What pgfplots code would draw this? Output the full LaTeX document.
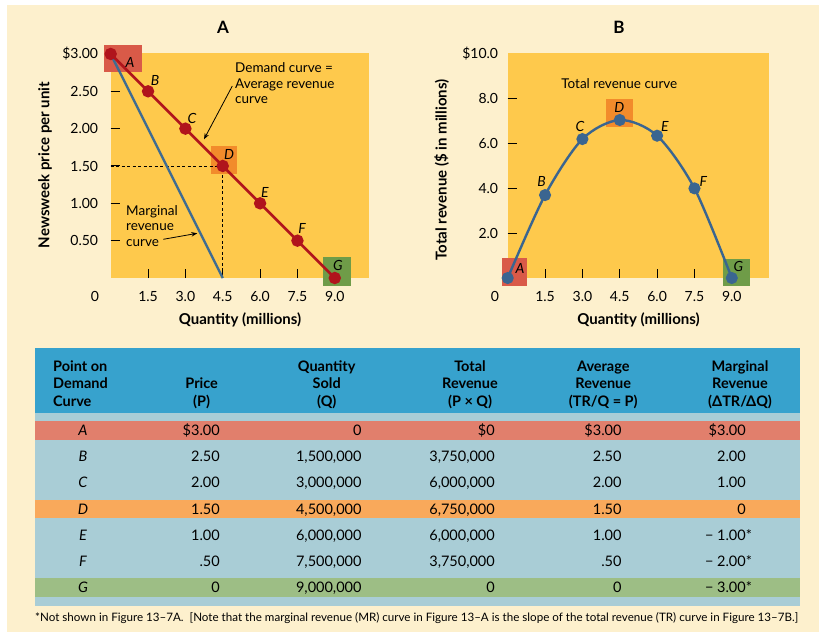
\documentclass[border=0pt]{standalone}
\usepackage{fontspec}
\setmainfont{Lato}
\usepackage{pgfplots}
\pgfplotsset{compat=1.18}
\usetikzlibrary{arrows.meta}

\definecolor{cream}{HTML}{FDF0CD}
\definecolor{plotyel}{HTML}{FEC94C}
\definecolor{boxred}{HTML}{D95A48}
\definecolor{boxorange}{HTML}{F28B2B}
\definecolor{boxgreen}{HTML}{6F9C48}
\definecolor{demred}{HTML}{B0141C}
\definecolor{mrblue}{HTML}{3F6C91}
\definecolor{trblue}{HTML}{3A6590}
\definecolor{hdrblue}{HTML}{37A2CD}
\definecolor{rowblue}{HTML}{A9CDD6}
\definecolor{rowred}{HTML}{E17F6C}
\definecolor{roworange}{HTML}{F9A95B}
\definecolor{rowgreen}{HTML}{9DBE85}

\newcommand\fs[1]{\fontsize{#1}{#1}\selectfont}

% one table row: y centre, point, P, Q, TR, AR, MR
\newcommand\trow[7]{%
  \node[anchor=base, font=\fs{14.5}\itshape] at (83,{#1+5.2}) {#2};
  \node[anchor=base east] at (220,{#1+5.2}) {#3};
  \node[anchor=base east] at (361.7,{#1+5.2}) {#4};
  \node[anchor=base east] at (495,{#1+5.2}) {#5};
  \node[anchor=base east] at (621.7,{#1+5.2}) {#6};
  \node[anchor=base east] at (746,{#1+5.2}) {#7};
}

\pgfplotsset{
  panel/.style={
    scale only axis, anchor=south west, height=225pt,
    xmin=0, ymin=0, clip=false,
    axis line style={draw=none},
    tick pos=left,
    major tick length=9.5pt,
    tick style={black, line width=1pt},
    tick label style={font=\fs{14}},
    xtick={1.5,3,4.5,6,7.5},
    xticklabels={1.5,3.0,4.5,6.0,7.5},
    extra x ticks={9}, extra x tick labels={9.0},
    extra tick style={major tick length=0pt},
    xticklabel style={anchor=base, inner sep=0pt, yshift=-23pt},
  }
}

\begin{document}
\begin{tikzpicture}
\begin{scope}[x=1pt,y=-1pt]
  \useasboundingbox (0,0) rectangle (819,632);
  \fill[white] (0,0) rectangle (819,632);
  \fill[cream] (7,5) rectangle (819,632);
  % plot areas
  \fill[plotyel] (110.7,53) rectangle (369.3,278);
  \fill[plotyel] (507.7,53) rectangle (769.3,278);
  % highlight boxes, panel A
  \fill[boxred] (104,45) rectangle (142,72);
  \fill[boxorange] (211,146) rectangle (237,174);
  \fill[boxgreen] (323,257) rectangle (351,286);
  % highlight boxes, panel B
  \fill[boxred] (502.3,258.3) rectangle (527.3,285.7);
  \fill[boxorange] (605.7,99) rectangle (632.7,127.3);
  \fill[boxgreen] (723.3,259) rectangle (750,285.7);
\end{scope}

% panel A: demand and marginal revenue
\begin{axis}[panel, at={(110.7pt,-278pt)}, width=258.6pt,
  xmax=10.386, ymax=3.013,
  ytick={0.5,1,1.5,2,2.5}, yticklabels={0.50,1.00,1.50,2.00,2.50},
  extra y ticks={3}, extra y tick labels={\$3.00},
  yticklabel style={anchor=east, inner sep=0pt, xshift=-12.4pt}]
\addplot[black, line width=0.9pt, dash pattern=on 3pt off 2.5pt] coordinates {(0,1.5) (4.5,1.5) (4.5,0)};
\addplot[mrblue, line width=2.4pt] coordinates {(0,3) (4.5,0)};
\addplot[demred, line width=2.7pt, mark=*, mark size=4.8pt,
  mark options={draw=none, fill=demred}]
  coordinates {(0,3) (1.5,2.5) (3,2) (4.5,1.5) (6,1) (7.5,0.5) (9,0)};
\end{axis}

% panel B: total revenue
\begin{axis}[panel, at={(507.7pt,-278pt)}, width=261.6pt,
  xmax=10.506, ymax=10.04,
  ytick={2,4,6,8}, yticklabels={2.0,4.0,6.0,8.0},
  extra y ticks={10}, extra y tick labels={\$10.0},
  yticklabel style={anchor=east, inner sep=0pt, xshift=-9.4pt}]
\addplot[trblue, line width=2.4pt, smooth, mark=*, mark size=4.8pt,
  mark options={draw=none, fill=trblue}]
  coordinates {(0,0) (1.5,3.7) (3,6.2) (4.5,7.05) (6,6.35) (7.5,4.0) (9,0)};
\end{axis}

\begin{scope}[x=1pt,y=-1pt]
  % titles and axis labels
  \node[font=\fs{17}\bfseries] at (223,27) {A};
  \node[font=\fs{17}\bfseries] at (619,27) {B};
  \node[font=\fs{15}\bfseries] at (240,320) {Quantity (millions)};
  \node[font=\fs{15}\bfseries] at (638.5,320) {Quantity (millions)};
  \node[rotate=90, font=\fs{15}\bfseries] at (45,165) {Newsweek price per unit};
  \node[rotate=90, font=\fs{15}\bfseries] at (441.7,170) {Total revenue (\$ in millions)};
  \node[font=\fs{14}] at (95,296) {0};
  \node[font=\fs{14}] at (495,296) {0};
  % point labels
  \begin{scope}[every node/.style={font=\fs{14}\itshape}]
    \node at (130,62) {A};  \node at (155,80) {B};  \node at (192,118) {C};
    \node at (229,154) {D}; \node at (265,192) {E}; \node at (302,228) {F};
    \node at (338,265) {G};
    \node at (520,268) {A};  \node at (541.7,181) {B}; \node at (580,126) {C};
    \node at (619.3,107.7) {D}; \node at (665,126) {E}; \node at (703.3,181) {F};
    \node at (738.3,266.7) {G};
  \end{scope}
  % annotations
  \node[align=left, anchor=west, inner sep=0pt, font=\fontsize{13.5}{15.5}\selectfont] at (235,83.5) {Demand curve =\\Average revenue\\curve};
  \node[align=left, anchor=west, inner sep=0pt, font=\fontsize{13.5}{15.5}\selectfont] at (126,226) {Marginal\\revenue\\curve};
  \node[font=\fs{13.5}] at (619.3,83.3) {Total revenue curve};
  \draw[-{Stealth[length=6pt,width=4.5pt]}, line width=0.8pt] (232.3,86) -- (204,139.3);
  \draw[-{Stealth[length=6pt,width=4.5pt]}, line width=0.8pt] (163.3,239.3) -- (197.3,233.3);

  % table
  \fill[hdrblue] (35,348) rectangle (800,412.7);
  \fill[rowblue] (35,412.7) rectangle (800,606);
  \fill[rowred] (35,421) rectangle (800,440);
  \fill[roworange] (35,500) rectangle (800,518.3);
  \fill[rowgreen] (35,577.7) rectangle (800,596.7);
  \begin{scope}[every node/.style={inner sep=0pt, font=\fs{14.5}}]
    \begin{scope}[every node/.append style={font=\fs{14.5}\bfseries, anchor=base}]
      \node[anchor=base west] at (53,371.2) {Point on};
      \node[anchor=base west] at (53,388.5) {Demand};
      \node[anchor=base west] at (53,406.9) {Curve};
      \node at (201.7,388.5) {Price};
      \node at (201.7,406.9) {(P)};
      \node at (326.7,371.2) {Quantity};
      \node at (326.7,388.5) {Sold};
      \node at (326.7,406.9) {(Q)};
      \node at (470,371.2) {Total};
      \node at (470,388.5) {Revenue};
      \node at (470,406.9) {(P × Q)};
      \node at (603.3,371.2) {Average};
      \node at (603.3,388.5) {Revenue};
      \node at (603.3,406.9) {(TR/Q = P)};
      \node at (740,371.2) {Marginal};
      \node at (740,388.5) {Revenue};
      \node at (740,406.9) {(ΔTR/ΔQ)};
    \end{scope}
    \trow{430.7}{A}{\$3.00}{0}{\$0}{\$3.00}{\$3.00}
    \trow{456.7}{B}{2.50}{1,500,000}{3,750,000}{2.50}{2.00}
    \trow{482.7}{C}{2.00}{3,000,000}{6,000,000}{2.00}{1.00}
    \trow{509}{D}{1.50}{4,500,000}{6,750,000}{1.50}{0}
    \trow{535}{E}{1.00}{6,000,000}{6,000,000}{1.00}{− 1.00\rlap{*}}
    \trow{561}{F}{.50}{7,500,000}{3,750,000}{.50}{− 2.00\rlap{*}}
    \trow{587.3}{G}{0}{9,000,000}{0}{0}{− 3.00\rlap{*}}
  \end{scope}
  \node[anchor=base west, inner sep=0pt, font=\fs{11.6}] at (35,621.5)
    {\makebox[763pt][s]{*Not shown in Figure 13–7A.\ \ [Note that the marginal revenue (MR) curve in Figure 13–A is the slope of the total revenue (TR) curve in Figure 13–7B.]}};
\end{scope}
\end{tikzpicture}
\end{document}
